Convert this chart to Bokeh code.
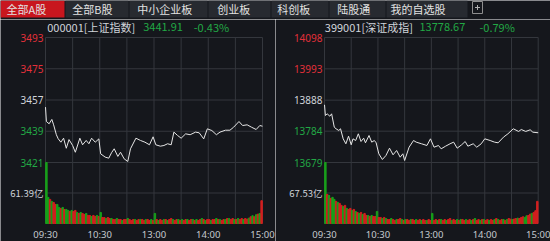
from bokeh.plotting import figure
from bokeh.models import ColumnDataSource, Range1d
from bokeh.layouts import column, row
from bokeh.embed import file_html
from bokeh.resources import INLINE
from bokeh.core.properties import value

# ---------------- data ----------------
tab_names = ["全部A股", "全部B股", "中小企业板", "创业板", "科创板", "陆股通", "我的自选股"]

time_ticks = [0, 60, 120, 180, 240]
time_labels = ["09:30", "10:30", "13:00", "14:00", "15:00"]

sh_title = ["000001[上证指数]", "3441.91", "-0.43%"]
sh_price_ticks = [3493, 3475, 3457, 3439, 3421]
sh_prev_close = 3457
sh_vol_half = 61.39
sh_minutes = [0, 1, 4, 7, 9, 12, 14, 17, 20, 23, 26, 30, 33, 38, 41, 45, 48, 51, 55, 59,
              61, 66, 70, 73, 76, 80, 83, 87, 91, 94, 100, 105, 110, 115, 119, 122, 127, 131, 135, 139,
              142, 146, 150, 155, 160, 166, 170, 175, 179, 184, 189, 193, 199, 204, 208, 214, 218, 223, 228, 233,
              237, 240]
sh_prices = [3452.9, 3444.6, 3443.3, 3445.8, 3442.7, 3437.0, 3434.7, 3432.7, 3435.0, 3429.2,
             3434.2, 3430.8, 3426.9, 3435.0, 3431.2, 3433.7, 3431.8, 3435.0, 3432.7, 3434.6,
             3426.0, 3424.1, 3423.5, 3426.6, 3428.9, 3424.5, 3426.9, 3423.1, 3421.6, 3428.9,
             3435.0, 3433.7, 3432.7, 3431.2, 3435.8, 3431.2, 3430.4, 3430.8, 3431.8, 3431.2,
             3438.5, 3436.6, 3435.0, 3437.5, 3437.0, 3438.5, 3438.1, 3434.6, 3440.4, 3439.4,
             3437.0, 3438.5, 3439.6, 3439.6, 3441.3, 3444.6, 3442.3, 3442.7, 3441.3, 3440.0,
             3442.3, 3441.9]
# volume per 2-minute bar (亿)
sh_volumes = [122.8, 52.5, 48.5, 44.4, 42.4, 38.4, 38.4, 32.3, 30.3, 32.3,
              28.3, 28.3, 26.3, 24.2, 26.3, 24.2, 26.3, 22.2, 20.2, 22.2,
              20.2, 18.2, 20.2, 16.2, 16.2, 14.1, 16.2, 14.1, 16.2, 14.1,
              22.2, 12.1, 12.1, 10.1, 12.1, 10.1, 10.1, 8.1, 8.1, 10.1,
              8.1, 8.1, 6.1, 8.1, 8.1, 10.1, 8.1, 6.1, 8.1, 8.1,
              6.1, 8.1, 8.1, 8.1, 6.1, 8.1, 8.1, 6.1, 8.1, 6.1,
              20.2, 8, 6, 8, 6, 8, 8, 6, 8, 10,
              8, 6, 8, 8, 6, 8, 6, 8, 8, 6,
              8, 8, 6, 8, 6, 8, 10, 8, 6, 8,
              8, 6, 8, 8, 10, 8, 8, 6, 8, 8,
              10, 10, 8, 10, 8, 8, 10, 8, 10, 8,
              10, 8.7, 10.7, 13.5, 15.6, 13.5, 17.6, 18.8, 20.2, 45.9]
sh_updown = ("ggrgrrggrg rggrgrrgrg rrgrrgrrgr grrgrrgrrg rrgrrgrrrg rrgrrgrrgr "
             "grgrrgrgrr grrgrgrrgr rgrgrrgrgr rgrrgrgrrg rgrrgrgrrg rrgrgrgrgr")

sz_title = ["399001[深证成指]", "13778.67", "-0.79%"]
sz_price_ticks = [14098, 13993, 13888, 13784, 13679]
sz_prev_close = 13888
sz_vol_half = 67.53
sz_minutes = [0, 1, 3, 6, 8, 11, 13, 16, 18, 21, 24, 27, 30, 32, 35, 38, 41, 44, 46, 50,
              53, 56, 58, 61, 65, 69, 73, 77, 81, 85, 88, 90, 95, 100, 103, 109, 115, 119, 123, 128,
              131, 136, 141, 145, 149, 154, 158, 161, 167, 171, 176, 180, 186, 191, 195, 201, 206, 212, 218, 221,
              226, 231, 234, 240]
sz_prices = [13872.4, 13836.5, 13842.2, 13834.2, 13842.2, 13797.3, 13792.0, 13786.3, 13792.0, 13758.4,
             13741.7, 13767.2, 13738.3, 13758.4, 13752.7, 13775.2, 13749.4, 13760.5, 13745.0, 13769.5,
             13747.2, 13752.7, 13745.0, 13708.2, 13689.1, 13702.5, 13727.0, 13704.8, 13719.2, 13696.8,
             13708.2, 13685.7, 13730.3, 13752.7, 13747.2, 13741.7, 13736.0, 13758.4, 13730.3, 13736.0,
             13724.9, 13733.7, 13741.7, 13747.2, 13727.0, 13738.3, 13749.4, 13733.7, 13741.7, 13730.3,
             13741.7, 13758.4, 13752.7, 13747.2, 13745.0, 13764.0, 13775.2, 13792.0, 13783.1, 13789.6,
             13783.1, 13788.6, 13780.6, 13778.7]
sz_volumes = [135.06, 64.5, 62.3, 55.6, 57.9, 53.4, 49.0, 46.7, 44.5, 40.1,
              37.8, 40.1, 33.4, 31.2, 33.4, 28.9, 31.2, 26.7, 24.5, 22.3,
              24.5, 20.0, 22.3, 17.8, 17.8, 15.6, 17.8, 15.6, 15.6, 26.7,
              13.4, 13.4, 11.1, 13.4, 11.1, 8.9, 8.9, 11.1, 8.9, 6.7,
              8.9, 8.9, 11.1, 8.9, 6.7, 8.9, 8.9, 6.7, 8.9, 8.9,
              6.7, 8.9, 6.7, 8.9, 6.7, 8.9, 6.7, 6.7, 8.9, 6.7,
              22.3, 6.7, 8.9, 6.7, 8.9, 8.9, 6.7, 8.9, 6.7, 8.9,
              11.1, 6.7, 8.9, 6.7, 8.9, 6.7, 8.9, 8.9, 6.7, 8.9,
              6.7, 8.9, 6.7, 8.9, 11.1, 6.7, 8.9, 6.7, 8.9, 8.9,
              6.7, 8.9, 6.7, 8.9, 6.7, 8.9, 11.1, 8.9, 6.7, 8.9,
              8.9, 6.7, 8.9, 11.1, 9.6, 8.9, 10.0, 11.1, 11.8, 11.1,
              13.4, 14.9, 13.4, 17.1, 17.8, 20.7, 22.3, 24.5, 28.3, 49.0]
sz_updown = ("grgrggrgrr grgrrgrgrg rgrrgrgrrg rrgrgrrgrr grrgrgrrgr rgrrgrrgrr "
             "grrgrgrrgr rgrrgrgrrg rrgrgrrgrg rrgrrgrgrr grgrrgrrgr rrggrrgrrr")

# ---------------- style ----------------
BG = "#15171c"
GRID = "#34373d"
RED = "#e3303a"
GREEN = "#22a845"
WHITE = "#d0d4da"
TIME_C = "#c6cad0"
BAR_RED = "#d21f1f"
BAR_GREEN = "#17a01a"
LINE = "#e6e6e6"
CJK = "Noto Sans CJK SC"
NUM = "Noto Sans"

PANEL_W, PANEL_H = 275, 222
PRICE_TOP_Y, PRICE_BOT_Y, VOL_BOT_Y = 18, 143, 204   # pixel rows inside a panel


def make_panel(title, title_dx, price_ticks, prev_close, vol_half, minutes, prices,
               volumes, updown, L, R):
    top, bottom = price_ticks[0], price_ticks[-1]
    k = 240.0 / (R - L)
    q = (top - bottom) / (PRICE_BOT_Y - PRICE_TOP_Y)
    vmax = 2 * vol_half
    u = vmax / (VOL_BOT_Y - PRICE_BOT_Y)
    p = figure(width=PANEL_W, height=PANEL_H,
               x_range=Range1d(-L * k, (PANEL_W - L) * k),
               y_range=Range1d(top - (PANEL_H - PRICE_TOP_Y) * q, top + PRICE_TOP_Y * q),
               x_axis_location=None, y_axis_location=None,
               toolbar_location=None, output_backend="svg", min_border=0,
               background_fill_color=BG, border_fill_color=BG, outline_line_color=None)
    p.extra_y_ranges = {"vol": Range1d(-(PANEL_H - VOL_BOT_Y) * u, vmax + PRICE_BOT_Y * u)}
    p.grid.grid_line_color = None

    vx = list(range(0, 241, 30))
    # grid: price area
    p.segment(x0=0, x1=240, y0=price_ticks, y1=price_ticks, line_color=GRID, line_width=1)
    p.segment(x0=vx, x1=vx, y0=bottom, y1=top, line_color=GRID, line_width=1)
    # grid: volume area
    p.segment(x0=0, x1=240, y0=[0, vol_half], y1=[0, vol_half], line_color=GRID,
              line_width=1, y_range_name="vol")
    p.segment(x0=vx, x1=vx, y0=0, y1=vmax, line_color=GRID, line_width=1, y_range_name="vol")

    codes = "".join(updown.split())
    centers = [2 * i + 1 for i in range(len(volumes))]
    cols = [BAR_RED if c == "r" else BAR_GREEN for c in codes]
    vsrc = ColumnDataSource(dict(x=centers, top=volumes, color=cols))
    p.vbar(x="x", top="top", bottom=0, width=1.6, color="color", source=vsrc, y_range_name="vol")

    p.line(minutes, prices, line_color=LINE, line_width=1)

    lab_cols = [RED if t > prev_close else (WHITE if t == prev_close else GREEN) for t in price_ticks]
    p.text(x=[0] * len(price_ticks), y=price_ticks, text=[str(t) for t in price_ticks],
           x_offset=-2, text_color=lab_cols, text_align="right", text_baseline="middle",
           text_font=value(NUM), text_font_size=value("10px"))
    p.text(x=[0], y=[vol_half], text=[f"{vol_half:.2f}亿"], x_offset=-2, y_range_name="vol",
           text_color=WHITE, text_align="right", text_baseline="middle",
           text_font=value(CJK), text_font_size=value("9.5px"))
    p.text(x=time_ticks, y=[0] * len(time_ticks), text=time_labels, y_offset=11,
           y_range_name="vol", text_color=TIME_C, text_align="center", text_baseline="middle",
           text_font=value(NUM), text_font_size=value("9.5px"))
    p.text(x=[0] * 3, y=[top] * 3, text=title, x_offset=title_dx, y_offset=-10.5,
           text_color=[WHITE, GREEN, GREEN], text_align="left", text_baseline="middle",
           text_font=value(CJK), text_font_size=value("11px"))
    return p


# ---------------- header (tabs) ----------------
head = figure(width=550, height=19, x_range=Range1d(0, 550), y_range=Range1d(19, 0),
              toolbar_location=None, output_backend="svg", min_border=0,
              x_axis_location=None, y_axis_location=None,
              background_fill_color=BG, border_fill_color=BG, outline_line_color=None)
head.grid.grid_line_color = None

tab_left = [0, 65, 129, 208, 271, 329, 386]
tab_right = [64, 128, 207, 270, 328, 385, 467]
tab_text_x = [6, 71.7, 136.7, 216.7, 276.7, 336.7, 390]
tab_fill = ["#c8161e"] + ["#272a30"] * 6
head.quad(left=tab_left, right=tab_right, top=0, bottom=17, fill_color=tab_fill, line_color=None)
head.text(x=tab_text_x, y=[8.5] * 7, text=tab_names, text_font=value(CJK),
          text_font_size=value("11px"), text_color="#e2e2e2",
          text_baseline="middle", text_align="left")
head.quad(left=472, right=482, top=1, bottom=13, fill_color=None, line_color="#8e8e8e")
head.segment(x0=[474.5, 477], y0=[7, 4.5], x1=[479.5, 477], y1=[7, 9.5], line_color="#b0b0b0")

left = make_panel(sh_title, [1.7, 97.7, 148.3], sh_price_ticks, sh_prev_close, sh_vol_half,
                  sh_minutes, sh_prices, sh_volumes, sh_updown, 45, 262)
right = make_panel(sz_title, [0.3, 95, 155], sz_price_ticks, sz_prev_close, sz_vol_half,
                   sz_minutes, sz_prices, sz_volumes, sz_updown, 49, 262.7)

layout = column(head, row(left, right, spacing=0), spacing=0)
open("out.html", "w").write(file_html(layout, INLINE))
